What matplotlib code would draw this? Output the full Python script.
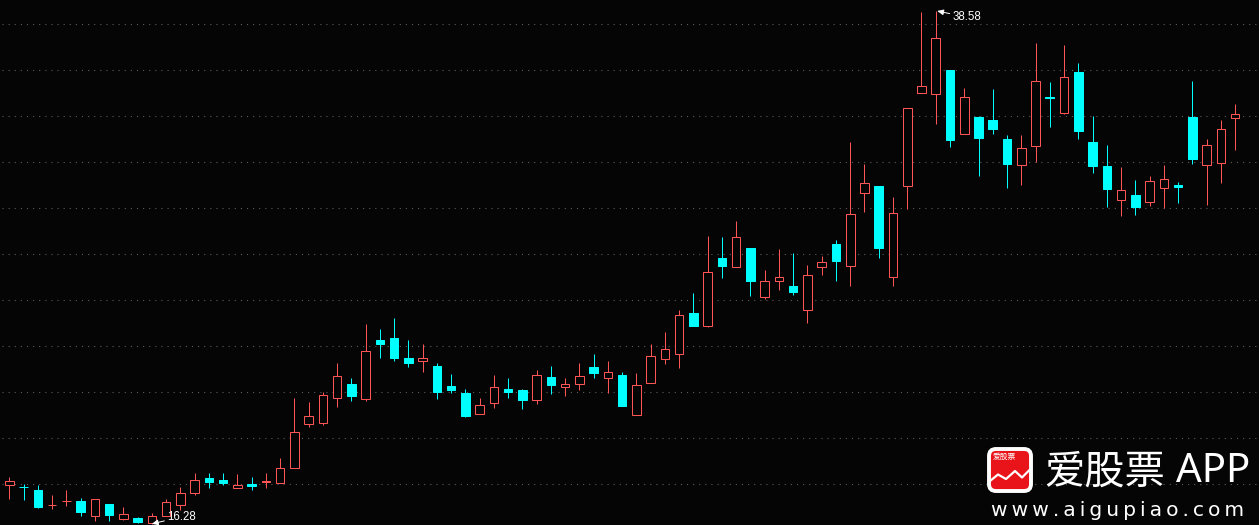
import numpy as np
import matplotlib
matplotlib.use('Agg')
import matplotlib.pyplot as plt
from matplotlib.patches import FancyBboxPatch

# daily prices
opens = [17.99,17.89,17.76,17.09,17.27,17.28,16.64,17.15,16.51,16.54,16.32,16.64,17.08,17.60,18.28,18.20,17.86,18.02,18.09,18.04,
         18.69,20.61,20.65,21.76,22.38,21.69,24.29,24.38,23.47,23.35,23.16,22.29,21.99,21.04,21.54,22.16,22.12,21.65,22.68,22.22,
         22.35,23.12,22.61,22.77,21.00,22.39,23.44,23.65,25.43,24.87,27.82,27.44,28.26,26.14,26.83,26.60,25.57,27.44,28.43,27.50,
         30.66,30.96,27.01,30.97,35.02,34.98,36.01,33.23,33.96,33.83,33.00,31.88,32.71,34.83,34.15,35.92,32.87,31.83,30.36,30.56,
         30.27,30.88,31.00,33.96,31.88,31.97,33.93]
closes = [18.15,17.87,17.03,17.09,17.27,16.80,17.37,16.67,16.70,16.37,16.63,17.24,17.63,18.20,18.11,18.07,17.97,17.94,18.14,18.71,
          20.27,20.97,21.89,22.71,21.85,23.80,24.08,23.51,23.29,23.50,22.03,22.12,20.98,21.45,22.23,22.03,21.68,22.76,22.33,22.36,
          22.71,22.86,22.89,21.42,22.32,23.58,23.89,25.37,24.90,27.24,27.47,28.77,26.82,26.85,27.02,26.34,27.11,27.68,27.69,29.77,
          31.12,28.26,29.81,34.38,35.30,37.39,32.96,34.82,33.05,33.44,31.91,32.64,35.52,34.81,35.69,33.35,31.83,30.83,30.81,30.04,
          31.20,31.29,30.91,32.13,32.77,33.43,34.12]
highs = [18.33,18.02,17.98,17.54,17.76,17.41,17.37,17.15,17.02,16.58,16.76,17.37,17.89,18.50,18.50,18.50,18.46,18.33,18.50,19.16,
         21.77,21.59,22.03,23.29,22.64,24.99,24.77,25.21,24.29,24.08,23.29,22.81,22.16,21.77,22.77,22.64,22.16,22.99,23.16,22.64,
         23.29,23.68,23.34,22.90,22.86,24.08,24.64,25.56,26.30,28.78,28.74,29.43,28.26,27.30,28.21,28.04,27.52,27.91,28.61,32.87,
         31.91,30.96,30.48,34.38,38.53,38.58,36.01,35.22,34.01,35.18,33.18,33.18,37.18,35.49,37.10,36.31,34.01,32.74,31.78,31.22,
         31.39,31.87,31.13,35.53,33.00,33.83,34.53]
lows = [17.38,17.33,16.98,16.93,17.06,16.63,16.41,16.41,16.45,16.30,16.28,16.61,16.89,17.54,17.85,17.97,17.86,17.76,17.85,18.04,
        18.69,20.51,20.59,21.38,21.64,21.64,23.47,23.38,23.12,22.90,21.72,21.99,20.94,21.04,21.33,21.77,21.29,21.51,21.94,21.85,
        22.12,22.60,21.99,21.42,21.00,22.39,23.25,23.07,24.90,24.82,26.99,27.44,26.17,26.04,26.43,26.21,25.03,27.08,26.86,26.60,
        29.82,27.86,26.60,29.97,35.02,33.66,32.66,33.23,31.39,33.22,30.87,31.00,32.00,33.53,34.09,33.00,31.52,30.04,29.65,29.69,
        30.09,30.00,30.22,31.91,30.13,31.09,32.52]
grid_prices = [18,20,22,24,26,28,30,32,34,36,38]
max_idx, max_label = 65, '38.58'
min_idx, min_label = 10, '16.28'

BG = '#050505'
RED = '#ff5555'
CYAN = '#00ffff'
W, H = 1259, 525

opens, closes, highs, lows = map(np.array, (opens, closes, highs, lows))
idx = np.arange(len(opens))
up = closes >= opens

fig = plt.figure(figsize=(W/100, H/100), dpi=100, facecolor=BG)
ax = fig.add_axes([0, 0, 1, 1], facecolor=BG)
ax.set_xlim(-0.653, 87.68)
ax.set_ylim(16.23, 39.057)
ax.axis('off')

ax.hlines(grid_prices, -0.5, 87.45, colors='#5c5c5c', linewidth=0.8, linestyles=(0, (1, 4.5)), zorder=1)

# wicks sit under the bodies, red bodies are hollow
ax.vlines(idx[up], lows[up], highs[up], colors=RED, linewidth=0.72, zorder=2)
ax.vlines(idx[~up], lows[~up], highs[~up], colors=CYAN, linewidth=0.72, zorder=2)
ax.bar(idx[up], closes[up]-opens[up], bottom=opens[up], width=0.6, facecolor=BG, edgecolor=RED,
       linewidth=0.72, joinstyle='miter', zorder=3)
ax.bar(idx[~up], closes[~up]-opens[~up], bottom=opens[~up], width=0.6, facecolor=CYAN, edgecolor=CYAN,
       linewidth=0.72, joinstyle='miter', zorder=3)

arrow = dict(arrowstyle='-|>,head_length=0.45,head_width=0.2', color='white', lw=0.7, shrinkA=0, shrinkB=0)
ax.annotate(max_label, xy=(max_idx+0.1, highs[max_idx]), xytext=(11, -4.5), textcoords='offset points',
            color='white', fontsize=8.3, family='Liberation Sans', va='center', arrowprops=arrow, zorder=5)
ax.annotate(min_label, xy=(min_idx, lows[min_idx]), xytext=(11, 5), textcoords='offset points',
            color='white', fontsize=8.3, family='Liberation Sans', va='center', arrowprops=arrow, zorder=5)

# watermark, drawn in pixel coordinates
lg = fig.add_axes([0, 0, 1, 1], facecolor='none')
lg.set_xlim(0, W)
lg.set_ylim(H, 0)
lg.axis('off')
lg.add_patch(FancyBboxPatch((989, 449), 42, 42, boxstyle='round,pad=0,rounding_size=7',
                            facecolor='#e8141a', edgecolor='white', linewidth=2.8, zorder=6))
lg.plot([990, 998, 1006, 1015, 1022, 1031], [481, 474.5, 479, 471, 477.5, 468.5], color='white', lw=1.6, zorder=7)
lg.text(1004, 456.5, '爱股票', color='white', fontsize=5.6, family=['Noto Sans CJK SC', 'DejaVu Sans'],
        ha='center', va='center', zorder=7)
lg.text(1044, 472, '爱股票', color='white', fontsize=29, family=['Noto Sans CJK SC', 'DejaVu Sans'],
        ha='left', va='center', zorder=7)
lg.text(1176, 472, 'APP', color='white', fontsize=29, family='Noto Sans', ha='left', va='center', zorder=7)
lg.text(991, 511, '\u2009'.join('www.aigupiao.com'), color='white', fontsize=14.6,
        family=['DejaVu Sans'], ha='left', va='center', zorder=7)

fig.savefig('out.png', dpi=100, facecolor=BG)
